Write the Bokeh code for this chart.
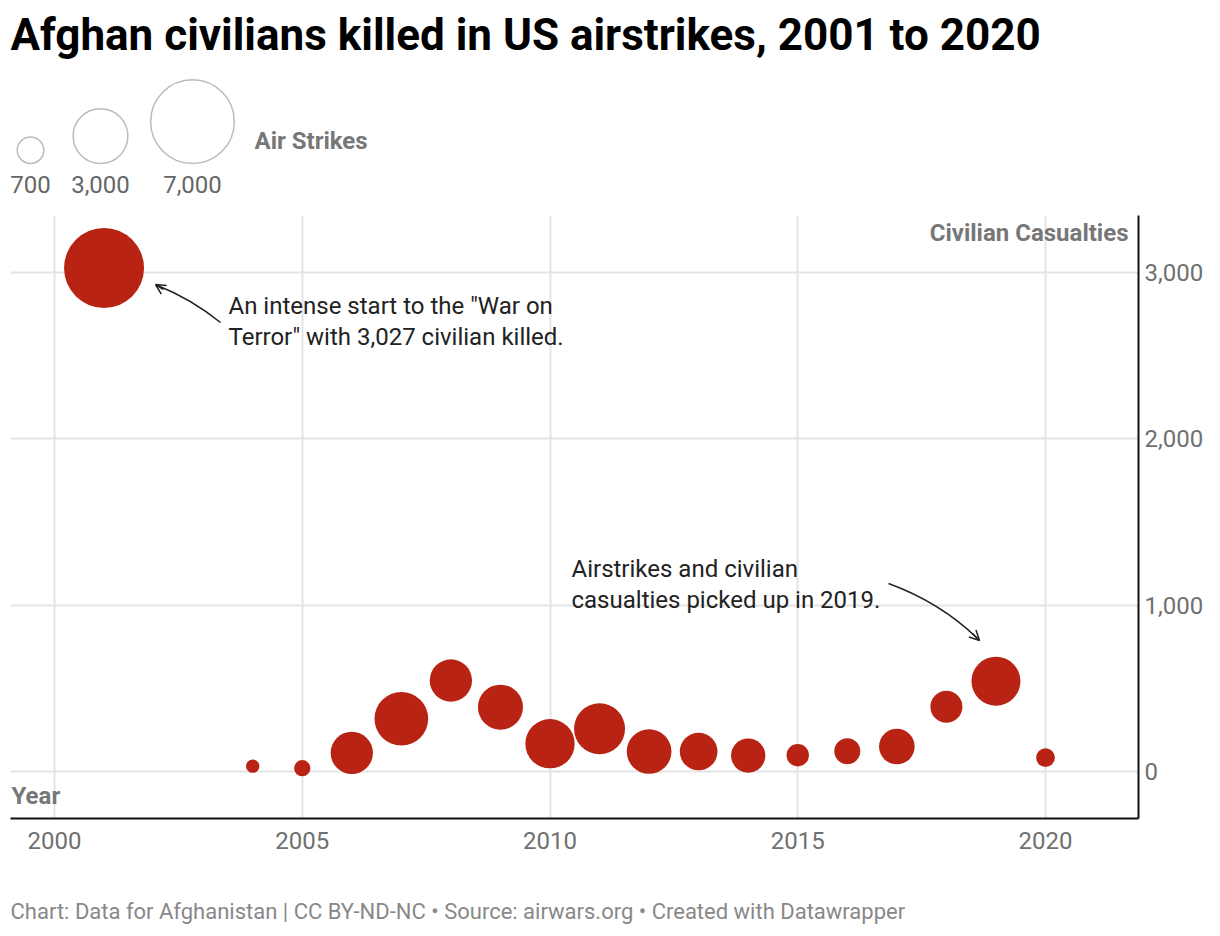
import numpy as np
from bokeh.plotting import figure
from bokeh.models import (Range1d, LinearAxis, FixedTicker, Label, Arrow, OpenHead,
                          NumeralTickFormatter, Grid)
from bokeh.layouts import column
from bokeh.embed import file_html
from bokeh.resources import INLINE
from bokeh.core.properties import value

# ---------------- data ----------------
years = [2001, 2004, 2005, 2006, 2007, 2008, 2009, 2010, 2011, 2012,
         2013, 2014, 2015, 2016, 2017, 2018, 2019, 2020]
casualties = [3027, 32, 20, 112, 317, 547, 387, 167, 257, 120,
              120, 96, 98, 122, 150, 389, 543, 84]
airstrikes = [6400, 178, 267, 1790, 2880, 1790, 2025, 2430, 2600, 2000,
              1420, 1180, 500, 676, 1270, 1024, 2400, 350]

legend_values = [700, 3000, 7000]
legend_labels = ["700", "3,000", "7,000"]

x_ticks = [2000, 2005, 2010, 2015, 2020]
y_ticks = [0, 1000, 2000, 3000]

title_text = "Afghan civilians killed in US airstrikes, 2001 to 2020"
footer_text = ("Chart: Data for Afghanistan | CC BY-ND-NC \u2022 Source: airwars.org "
               "\u2022 Created with Datawrapper")
note1 = ["An intense start to the \"War on", "Terror\" with 3,027 civilian killed."]
note2 = ["Airstrikes and civilian", "casualties picked up in 2019."]

FONT = value("Roboto")
FONT_S = "Roboto"
RED = "#b82314"
W = 1212
LEFT, RIGHT = 10, 1138          # frame edges shared by all stacked figures


def blank_fig(h):
    f = figure(width=W, height=h, x_range=Range1d(LEFT, RIGHT), y_range=Range1d(h, 0),
               output_backend="svg", toolbar_location=None,
               x_axis_location=None, y_axis_location=None,
               min_border_left=LEFT, min_border_right=W - RIGHT,
               min_border_top=0, min_border_bottom=0,
               outline_line_color=None)
    for g in f.grid:
        g.visible = False
    return f


# ---------------- header figure (title + size legend) ----------------
top_h = 208
top = blank_fig(top_h)
top.text(x=[10], y=[34], text=[title_text], text_font=FONT, text_font_style="bold",
         text_font_size="44px", text_color="#000000", text_baseline="middle",
         text_align="left")

lx = [30, 100, 192]
lsize = np.sqrt(legend_values)
ly = 163 - lsize / 2
top.scatter(x=lx, y=ly, size=lsize, fill_color=None, line_color="#bbbbbb",
            line_width=1.5)
top.text(x=lx, y=[184] * 3, text=legend_labels, text_font=FONT, text_font_size="24px",
         text_color="#666666", text_align="center", text_baseline="middle")
top.text(x=[254], y=[140], text=["Air Strikes"], text_font=FONT, text_font_style="bold",
         text_font_size="24px", text_color="#777777", text_align="left",
         text_baseline="middle")

# ---------------- main figure ----------------
PX_PER_YEAR = (1045 - 54) / 20.0
PX_PER_UNIT = (771 - 272) / 3000.0


def sx2x(sx):
    return 2000 + (sx - 54) / PX_PER_YEAR


def sy2y(sy):
    return (771 - sy) / PX_PER_UNIT


main_h = 662
p = figure(width=W, height=main_h,
           x_range=Range1d(sx2x(LEFT), sx2x(RIGHT)),
           y_range=Range1d(sy2y(818), sy2y(215)),
           output_backend="svg", toolbar_location=None,
           x_axis_location=None, y_axis_location=None,
           min_border_left=LEFT, min_border_right=W - RIGHT, min_border_top=7,
           min_border_bottom=52, outline_line_color=None)
for g in p.grid:
    g.visible = False

xaxis = LinearAxis(ticker=FixedTicker(ticks=x_ticks))
yaxis = LinearAxis(ticker=FixedTicker(ticks=y_ticks),
                   formatter=NumeralTickFormatter(format="0,0"))
for ax in (xaxis, yaxis):
    ax.axis_line_color = "#111111"
    ax.axis_line_width = 2
    ax.major_tick_line_color = None
    ax.minor_tick_line_color = None
    ax.major_tick_out = 0
    ax.major_tick_in = 0
    ax.major_label_text_font = FONT_S
    ax.major_label_text_font_size = "24px"
    ax.major_label_text_color = "#707070"
xaxis.major_label_standoff = 13
yaxis.major_label_standoff = 6
p.add_layout(xaxis, "below")
p.add_layout(yaxis, "right")

p.add_layout(Grid(dimension=0, ticker=FixedTicker(ticks=x_ticks),
                  grid_line_color="#e4e4e4", grid_line_width=2))
p.add_layout(Grid(dimension=1, ticker=FixedTicker(ticks=y_ticks),
                  grid_line_color="#e4e4e4", grid_line_width=2))

p.scatter(x=years, y=casualties, size=np.sqrt(airstrikes), fill_color=RED,
          line_color=None)

# axis titles
p.add_layout(Label(x=sx2x(1128), y=sy2y(232), text="Civilian Casualties",
                   text_font=FONT_S, text_font_style="bold", text_font_size="24px",
                   text_color="#777777", text_align="right", text_baseline="middle"))
p.add_layout(Label(x=sx2x(11), y=sy2y(795), text="Year",
                   text_font=FONT_S, text_font_style="bold", text_font_size="24px",
                   text_color="#777777", text_align="left", text_baseline="middle"))

# annotations
for i, t in enumerate(note1):
    p.add_layout(Label(x=sx2x(228), y=sy2y(305 + 31 * i), text=t, text_font=FONT_S,
                       text_font_size="24px", text_color="#222222",
                       text_align="left", text_baseline="middle"))
for i, t in enumerate(note2):
    p.add_layout(Label(x=sx2x(571), y=sy2y(568 + 31 * i), text=t, text_font=FONT_S,
                       text_font_size="24px", text_color="#222222",
                       text_align="left", text_baseline="middle"))

# curved arrows
p.quadratic(x0=[sx2x(220), sx2x(888)], y0=[sy2y(322), sy2y(583)],
            x1=[sx2x(157), sx2x(977)], y1=[sy2y(285), sy2y(638)],
            cx=[sx2x(190), sx2x(940)], cy=[sy2y(298), sy2y(602)],
            line_color="#222222", line_width=1.5)
p.add_layout(Arrow(end=OpenHead(size=10, line_color="#222222", line_width=1.5),
                   x_start=sx2x(163), y_start=sy2y(289), x_end=sx2x(155), y_end=sy2y(284),
                   line_color="#222222", line_width=1.5))
p.add_layout(Arrow(end=OpenHead(size=10, line_color="#222222", line_width=1.5),
                   x_start=sx2x(972), y_start=sy2y(633), x_end=sx2x(979), y_end=sy2y(640),
                   line_color="#222222", line_width=1.5))

# ---------------- footer figure ----------------
foot_h = 58
foot = blank_fig(foot_h)
foot.text(x=[10], y=[41], text=[footer_text], text_font=FONT, text_font_size="22px",
          text_color="#888888", text_align="left", text_baseline="middle")

layout = column(top, p, foot, spacing=0)
open("out.html", "w").write(file_html(layout, INLINE))
